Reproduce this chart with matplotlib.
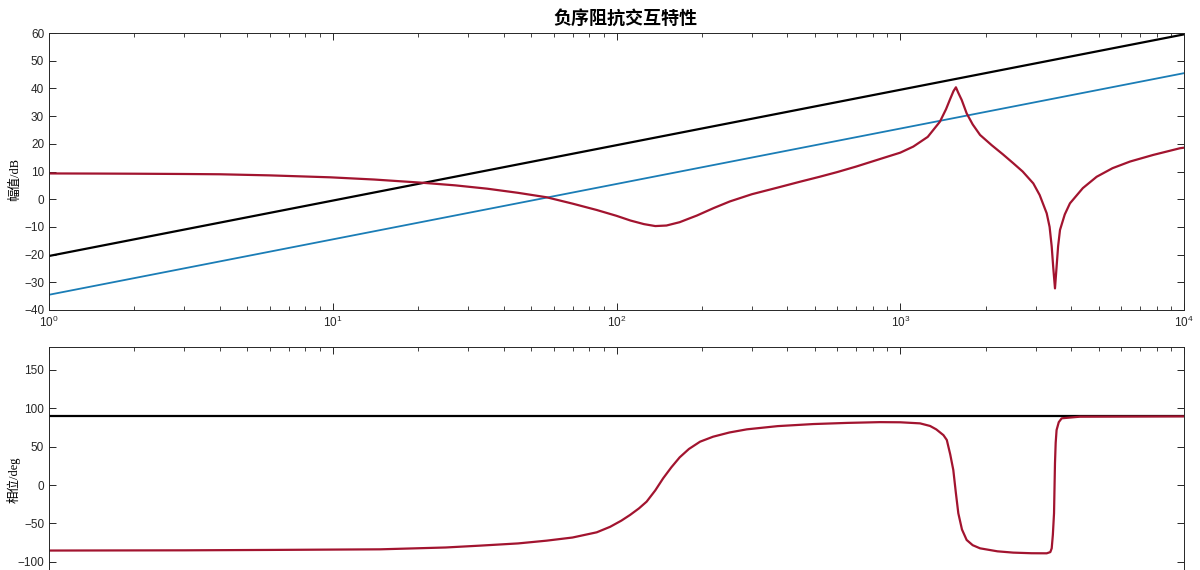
import numpy as np
import matplotlib
matplotlib.use('Agg')
import matplotlib.pyplot as plt
from matplotlib.ticker import LogLocator, NullFormatter, FixedLocator

plt.rcParams['font.family'] = ['Liberation Sans', 'Noto Sans CJK SC', 'DejaVu Sans']

# straight lines (value at each decade)
decades = [1, 10, 100, 1000, 10000]
black_mag = [-20.5, -0.5, 19.5, 39.5, 59.5]
blue_mag = [-34.5, -14.5, 5.5, 25.5, 45.5]
black_phase = [90, 90, 90, 90, 90]

# red curve, magnitude
red_f = [1, 1.5, 2, 3, 4, 6, 9.8, 14, 20.3, 27, 35, 45, 56.7, 70, 85.2, 100, 112, 125,
         137, 150, 167, 180, 192, 220, 251, 300, 370, 443, 520, 600, 700, 848, 1000,
         1112, 1250, 1380, 1450, 1497, 1540, 1571, 1600, 1647, 1714, 1800, 1911, 2100,
         2300, 2501, 2700, 2944, 3100, 3282, 3360, 3418, 3460, 3510, 3556, 3600, 3656,
         3800, 3963, 4400, 4923, 5600, 6456, 7800, 9680, 10000]
red_mag = [9.3, 9.25, 9.2, 9.1, 9.0, 8.6, 7.9, 7.1, 6.0, 5.0, 3.8, 2.3, 0.7, -1.6, -3.9, -6.0, -7.7, -9.0,
           -9.7, -9.5, -8.3, -7.0, -5.9, -3.2, -0.8, 1.8, 4.2, 6.3, 8.1, 9.8, 11.8, 14.5, 16.8,
           19.0, 22.5, 28.0, 32.5, 36.0, 39.0, 40.4, 38.5, 35.8, 31.0, 27.0, 23.2, 19.5,
           16.2, 13.0, 10.0, 5.7, 1.5, -5.1, -10.0, -17.1, -24.5, -32.2, -24.4, -17.0, -11.1,
           -5.5, -1.5, 4.0, 8.1, 11.2, 13.6, 16.0, 18.4, 18.6]

# red curve, phase
ph_f = [1, 3, 6, 14.7, 25, 33, 45, 56.7, 70, 85.2, 95, 104, 111.6, 120, 127.7, 137, 146,
        156, 167, 180, 197, 219, 250, 288, 370, 494, 650, 848, 1000, 1174, 1274, 1340,
        1420, 1459, 1500, 1538, 1570, 1602, 1650, 1714, 1800, 1911, 2200, 2501, 2900,
        3282, 3380, 3418, 3450, 3483, 3510, 3530, 3556, 3620, 3707, 4298, 10000]
red_phase = [-85.5, -85.2, -84.7, -83.9, -81.5, -79.1, -76.2, -72.6, -68.5, -61.7, -54.5, -46.5,
             -39.1, -30.5, -21.7, -7.0, 8.7, 23.0, 36.1, 47.0, 56.5, 63.0, 68.5, 72.6, 76.8,
             79.5, 81.0, 82.0, 81.8, 80.4, 77.0, 72.5, 65.0, 58.7, 40.0, 19.6, -10.0, -36.9,
             -58.0, -71.7, -78.5, -82.6, -86.5, -88.2, -89.0, -89.1, -87.5, -82.6, -65.0,
             -36.9, 28.3, 55.0, 71.7, 82.0, 87.0, 89.1, 89.5]

c_black = '#000000'
c_blue = '#1a7db6'
c_red = '#a2142f'

fig = plt.figure(figsize=(12, 5.7), dpi=100)
ax1 = fig.add_axes([49/1200, 1-310/570, 1135/1200, 277/570])
ax2 = fig.add_axes([49/1200, 1-623/570, 1135/1200, 276/570])

ax1.plot(decades, black_mag, color=c_black, lw=1.6)
ax1.plot(decades, blue_mag, color=c_blue, lw=1.3)
ax1.plot(red_f, red_mag, color=c_red, lw=1.6)

ax2.plot(decades, black_phase, color=c_black, lw=1.6)
ax2.plot(ph_f, red_phase, color=c_red, lw=1.6)

for ax in (ax1, ax2):
    ax.set_xscale('log')
    ax.set_xlim(1, 1e4)
    ax.xaxis.set_major_locator(LogLocator(base=10, numticks=10))
    ax.xaxis.set_minor_locator(LogLocator(base=10, subs=np.arange(2, 10), numticks=10))
    ax.xaxis.set_minor_formatter(NullFormatter())
    ax.tick_params(which='both', direction='in', top=True, right=True,
                   labelsize=8.5, colors='#262626')
    ax.tick_params(which='major', length=5, width=0.7)
    ax.tick_params(which='minor', length=3, width=0.6)
    for s in ax.spines.values():
        s.set_color('#262626')
        s.set_linewidth(0.7)

ax1.set_ylim(-40, 60)
ax1.yaxis.set_major_locator(FixedLocator(np.arange(-40, 61, 10)))
ax2.set_ylim(-180, 180)
ax2.yaxis.set_major_locator(FixedLocator([-100, -50, 0, 50, 100, 150]))
ax2.tick_params(axis='x', labelbottom=False)

ax1.set_title('负序阻抗交互特性', fontsize=13, fontweight='bold',
              family=['Noto Sans CJK SC'], pad=7, x=0.508)
ax1.set_ylabel('幅值/dB', fontsize=9, family=['Liberation Serif', 'Noto Sans CJK SC'])
ax2.set_ylabel('相位/deg', fontsize=9, family=['Liberation Serif', 'Noto Sans CJK SC'])
ax1.yaxis.set_label_coords(-0.025, 0.47)
ax2.yaxis.set_label_coords(-0.025, 0.52)

fig.savefig('out.png', dpi=100)
